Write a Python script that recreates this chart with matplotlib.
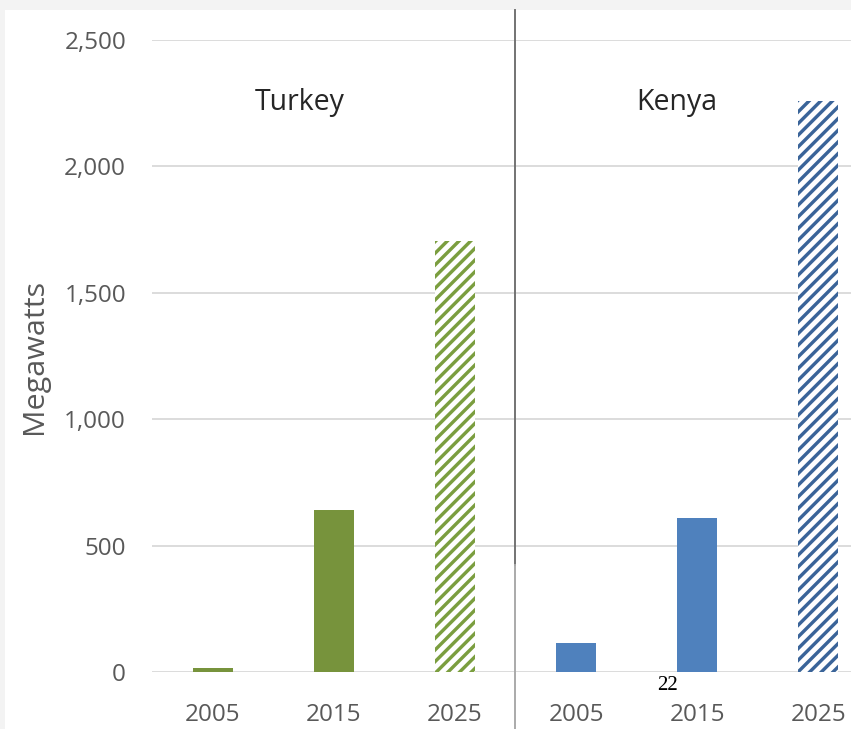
import matplotlib
matplotlib.use("Agg")
import matplotlib.pyplot as plt
from matplotlib.patches import Rectangle

# data
years = ["2005", "2015", "2025"]
turkey_mw = [15, 641, 1705]
kenya_mw = [115, 609, 2259]
regions = ["Turkey", "Kenya"]
projected = [False, False, True]

green = "#77933C"
green_hatch = "#7B9E3F"
blue = "#4F81BD"
blue_hatch = "#3A6499"
tick_grey = "#595959"

DPI = 140
W, H = 851, 729


def pt(px):
    # pixel size -> points at this dpi
    return px * 72.0 / DPI


plt.rcParams["font.family"] = ["Open Sans", "DejaVu Sans"]
plt.rcParams["hatch.linewidth"] = pt(3.4)

fig = plt.figure(figsize=(W / DPI, H / DPI), dpi=DPI, facecolor="#f3f3f3")
# white chart area inside the light page border
fig.add_artist(Rectangle((5 / W, 0), 1, 1 - 10 / H, transform=fig.transFigure,
                         facecolor="white", edgecolor="none", zorder=0))

ax = fig.add_axes([152 / W, 57 / H, 1 - 152 / W, 632 / H])
ax.set_facecolor("none")

x = list(range(6))
values = turkey_mw + kenya_mw
for i, v in enumerate(values):
    col = green if i < 3 else blue
    if projected[i % 3]:
        hcol = green_hatch if i < 3 else blue_hatch
        ax.bar(x[i], v, width=0.33, facecolor="white", edgecolor=hcol,
               linewidth=0, hatch="////", zorder=3)
    else:
        ax.bar(x[i], v, width=0.33, color=col, linewidth=0, zorder=3)

ax.set_xlim(-0.5, 5.27)
ax.set_ylim(0, 2500)
ax.set_yticks([0, 500, 1000, 1500, 2000, 2500])
ax.set_yticklabels(["0", "500", "1,000", "1,500", "2,000", "2,500"])
ax.set_xticks(x)
ax.set_xticklabels(years * 2)
ax.tick_params(axis="both", length=0, labelsize=pt(24.3), colors=tick_grey)
ax.tick_params(axis="x", pad=pt(31))
ax.tick_params(axis="y", pad=pt(26))

ax.grid(axis="y", color="#d9d9d9", linewidth=pt(1.8), zorder=0)
for s in ax.spines.values():
    s.set_visible(False)

ax.set_ylabel("Megawatts", fontsize=pt(30.5), color=tick_grey)
ax.yaxis.set_label_coords(-(152 - 49) / (W - 152), 0.5)

# divider between the two regions
ax.axvline(2.5, ymin=(672 - 565) / 632, ymax=(672 - 10) / 632, color="#6f6f6f",
           linewidth=pt(1.9), clip_on=False, zorder=4)
ax.axvline(2.5, ymin=-57 / 632, ymax=(672 - 565) / 632, color="#a8a8a8",
           linewidth=pt(1.9), clip_on=False, zorder=4)

ax.text(0.72, 2251, regions[0], fontsize=pt(28.5), color="#262626", ha="center", va="center")
ax.text(3.83, 2251, regions[1], fontsize=pt(28.5), color="#262626", ha="center", va="center")

# page number from the source document
fig.text(668 / W, 1 - 686 / H, "22", fontsize=pt(21), family="Liberation Serif",
         color="black", ha="center", va="center")

fig.savefig("out.png", dpi=DPI, facecolor=fig.get_facecolor())
